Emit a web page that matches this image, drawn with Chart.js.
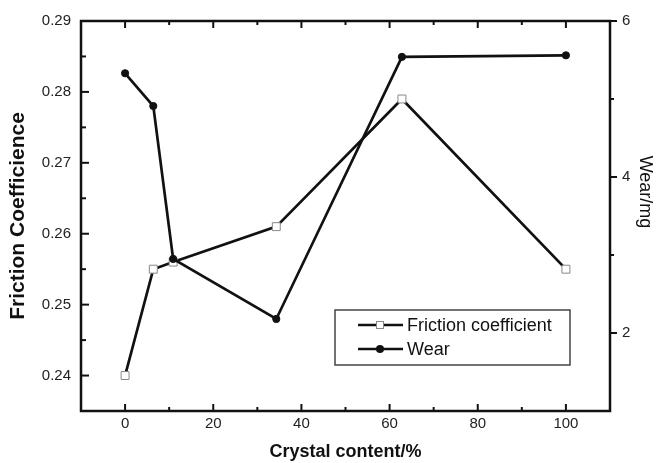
<!DOCTYPE html>
<html>
<head>
<meta charset="utf-8">
<script src="https://cdn.jsdelivr.net/npm/chart.js@4/dist/chart.umd.min.js"></script>
<style>
  body { margin: 0; background: #fff; }
  #wrap { width: 662px; height: 463px; }
</style>
</head>
<body>
<div id="wrap"><canvas id="frictionChart" width="662" height="463"></canvas></div>
<script>
// Friction coefficient and wear vs crystal content
const crystalContent = [0, 6.4, 10.9, 34.3, 62.8, 100];
const frictionCoeff = [0.240, 0.255, 0.256, 0.261, 0.279, 0.255];
const wearMg = [5.33, 4.91, 2.95, 2.18, 5.54, 5.56];

const xTicks = [0, 20, 40, 60, 80, 100];
const xMinor = [10, 30, 50, 70, 90];
const frictionTicks = [0.24, 0.25, 0.26, 0.27, 0.28, 0.29];
const frictionMinor = [0.245, 0.255, 0.265, 0.275, 0.285];
const wearTicks = [2, 4, 6];
const wearMinor = [3, 5];

const seriesNames = ['Friction coefficient', 'Wear'];
const wearTitle = 'Wear/mg';

const FONT = 'Arial, "Liberation Sans", sans-serif';
const INK = '#111';

function pts(ys) {
    return crystalContent.map((x, i) => ({ x: x, y: ys[i] }));
}

// frame + ticks like the Origin plot (left/bottom/top inward, right outward)
const framePlugin = {
    id: 'frame',
    afterDatasetsDraw(chart) {
        const { ctx, chartArea: a, scales } = chart;
        ctx.save();
        ctx.strokeStyle = INK;
        ctx.lineWidth = 2;
        ctx.lineCap = 'butt';
        const tick = (x1, y1, x2, y2) => {
            ctx.beginPath(); ctx.moveTo(x1, y1); ctx.lineTo(x2, y2); ctx.stroke();
        };
        xTicks.forEach(v => {
            const px = scales.x.getPixelForValue(v);
            tick(px, a.bottom, px, a.bottom - 7);
            tick(px, a.top, px, a.top + 7);
        });
        xMinor.forEach(v => {
            const px = scales.x.getPixelForValue(v);
            tick(px, a.bottom, px, a.bottom - 4);
            tick(px, a.top, px, a.top + 4);
        });
        frictionTicks.forEach(v => {
            const py = scales.y.getPixelForValue(v);
            tick(a.left, py, a.left + 8, py);
        });
        frictionMinor.forEach(v => {
            const py = scales.y.getPixelForValue(v);
            tick(a.left, py, a.left + 5, py);
        });
        wearTicks.forEach(v => {
            const py = scales.y2.getPixelForValue(v);
            tick(a.right, py, a.right + 7, py);
        });
        wearMinor.forEach(v => {
            const py = scales.y2.getPixelForValue(v);
            tick(a.right, py, a.right + 4, py);
        });
        ctx.lineWidth = 2.5;
        ctx.strokeRect(a.left, a.top, a.right - a.left, a.bottom - a.top);

        // right axis title, sits a bit above centre in the original
        ctx.translate(645, 192);
        ctx.rotate(Math.PI / 2);
        ctx.fillStyle = INK;
        ctx.font = '18px ' + FONT;
        ctx.textAlign = 'center';
        ctx.textBaseline = 'middle';
        ctx.fillText(wearTitle, 0, 0);
        ctx.restore();
    }
};

// boxed legend inside the plot, line-marker-line samples
const legendPlugin = {
    id: 'boxLegend',
    afterDraw(chart) {
        const { ctx } = chart;
        ctx.save();
        ctx.strokeStyle = '#444';
        ctx.lineWidth = 1.5;
        ctx.strokeRect(335, 310, 235, 55);
        const rows = [325, 349];
        chart.data.datasets.forEach((ds, i) => {
            const y = rows[i];
            ctx.strokeStyle = INK;
            ctx.lineWidth = 2.5;
            ctx.beginPath(); ctx.moveTo(358, y); ctx.lineTo(403, y); ctx.stroke();
            if (ds.pointStyle === 'rect') {
                ctx.fillStyle = '#fff';
                ctx.fillRect(376, y - 4, 8, 8);
                ctx.strokeStyle = '#888';
                ctx.lineWidth = 1;
                ctx.strokeRect(376.5, y - 3.5, 7, 7);
            } else {
                ctx.fillStyle = INK;
                ctx.beginPath(); ctx.arc(380, y, 4, 0, Math.PI * 2); ctx.fill();
            }
            ctx.fillStyle = INK;
            ctx.font = '18px ' + FONT;
            ctx.textBaseline = 'middle';
            ctx.fillText(seriesNames[i], 407, y + 1);
        });
        ctx.restore();
    }
};

new Chart(document.getElementById('frictionChart').getContext('2d'), {
    type: 'line',
    data: {
        datasets: [{
            label: seriesNames[0],
            data: pts(frictionCoeff),
            yAxisID: 'y',
            borderColor: INK,
            borderWidth: 2.7,
            pointStyle: 'rect',
            pointRadius: 5.6,
            pointBackgroundColor: '#fff',
            pointBorderColor: '#888',
            pointBorderWidth: 1,
            tension: 0,
            order: 1
        }, {
            label: seriesNames[1],
            data: pts(wearMg),
            yAxisID: 'y2',
            borderColor: INK,
            borderWidth: 2.7,
            pointStyle: 'circle',
            pointRadius: 3.6,
            pointBackgroundColor: INK,
            pointBorderColor: INK,
            pointBorderWidth: 1,
            tension: 0,
            order: 0
        }]
    },
    options: {
        responsive: false,
        animation: false,
        layout: { padding: { top: 17, left: 0, right: 0, bottom: 0 } },
        plugins: { legend: { display: false }, tooltip: { enabled: false } },
        scales: {
            x: {
                type: 'linear',
                min: -10, max: 110,
                grid: { display: false, drawTicks: false },
                border: { display: false },
                afterBuildTicks: s => { s.ticks = xTicks.map(v => ({ value: v })); },
                afterFit: s => { s.height = 52; },
                ticks: { padding: 4, color: '#222', font: { family: FONT, size: 15 } },
                title: {
                    display: true, text: 'Crystal content/%', color: INK,
                    padding: { top: 0, bottom: 0 },
                    font: { family: FONT, size: 18, weight: 'bold' }
                }
            },
            y: {
                position: 'left',
                min: 0.235, max: 0.29,
                grid: { display: false, drawTicks: false },
                border: { display: false },
                afterBuildTicks: s => { s.ticks = frictionTicks.map(v => ({ value: v })); },
                afterFit: s => { s.width = 81; },
                ticks: {
                    padding: 10, color: '#222', font: { family: FONT, size: 15 },
                    callback: v => v.toFixed(2)
                },
                title: {
                    display: true, text: 'Friction Coefficience', color: INK,
                    padding: { top: 6, bottom: 0 },
                    font: { family: FONT, size: 21, weight: 'bold' }
                }
            },
            y2: {
                position: 'right',
                min: 1, max: 6,
                grid: { display: false, drawTicks: false },
                border: { display: false },
                afterBuildTicks: s => { s.ticks = wearTicks.map(v => ({ value: v })); },
                afterFit: s => { s.width = 52; },
                ticks: { padding: 12, color: '#222', font: { family: FONT, size: 15 } },
                title: { display: false }
            }
        }
    },
    plugins: [framePlugin, legendPlugin]
});
</script>
</body>
</html>
